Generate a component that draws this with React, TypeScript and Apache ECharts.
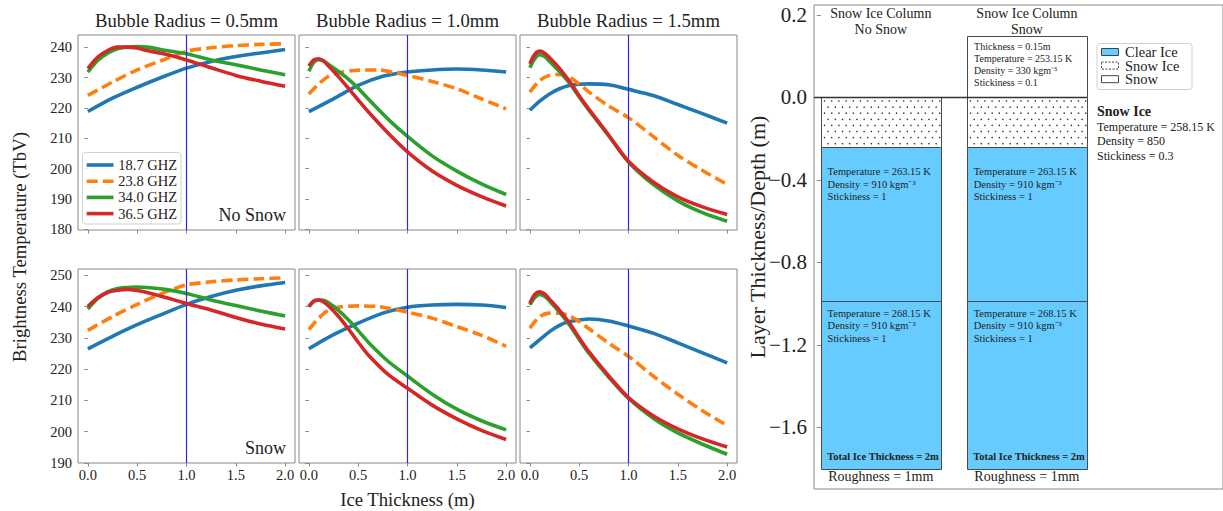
import React, { useEffect, useRef } from 'react';
import * as echarts from 'echarts';

const FONT = '"Liberation Serif", "Times New Roman", serif';
const TEXT = '#222';
const SPINE = '#888';

// ---------- left panels: brightness temperature vs ice thickness ----------
const FREQS = ['18.7 GHZ', '23.8 GHZ', '34.0 GHZ', '36.5 GHZ'];
const COLORS = ['#1f77b4', '#ff7f0e', '#2ca02c', '#d62728'];
const RADIUS_TITLES = ['Bubble Radius = 0.5mm', 'Bubble Radius = 1.0mm', 'Bubble Radius = 1.5mm'];
const ROW_LABELS = ['No Snow', 'Snow'];
const X_TICKS = [0, 0.5, 1.0, 1.5, 2.0];
const TOP_Y_TICKS = [180, 190, 200, 210, 220, 230, 240];
const BOTTOM_Y_TICKS = [190, 200, 210, 220, 230, 240, 250];
const MARKER_X = 1.0;

// No snow, radius 0.5 mm
const noSnowR05_f187 = [[0, 218.8], [0.25, 223.2], [0.5, 226.8], [0.75, 230.1], [1, 233.1], [1.25, 235.3], [1.5, 236.9], [1.75, 238.1], [2, 239.2]];
const noSnowR05_f238 = [[0, 224.1], [0.25, 228.5], [0.5, 232.5], [0.75, 235.6], [1, 238.6], [1.25, 239.8], [1.5, 240.5], [1.75, 240.9], [2, 241.1]];
const noSnowR05_f340 = [[0, 231.8], [0.1, 235.6], [0.2, 238.0], [0.3, 239.5], [0.4, 240.0], [0.5, 240.2], [0.6, 240.0], [0.8, 238.9], [1, 237.8], [1.25, 235.8], [1.5, 234.2], [1.75, 232.5], [2, 230.9]];
const noSnowR05_f365 = [[0, 232.9], [0.1, 236.7], [0.2, 238.9], [0.3, 240.0], [0.4, 240.0], [0.5, 239.7], [0.6, 238.9], [0.8, 237.6], [1, 235.8], [1.25, 233.2], [1.5, 230.7], [1.75, 228.8], [2, 227.1]];
// No snow, radius 1.0 mm
const noSnowR10_f187 = [[0, 218.8], [0.25, 223.0], [0.5, 227.4], [0.75, 230.4], [1, 231.8], [1.25, 232.5], [1.5, 232.8], [1.75, 232.5], [2, 231.8]];
const noSnowR10_f238 = [[0, 224.6], [0.1, 227.9], [0.2, 230.4], [0.3, 231.6], [0.5, 232.4], [0.7, 232.5], [0.9, 231.4], [1, 230.7], [1.25, 228.7], [1.5, 226.3], [1.75, 223.0], [2, 219.7]];
const noSnowR10_f340 = [[0, 232.1], [0.05, 235.0], [0.1, 235.9], [0.15, 235.5], [0.2, 234.3], [0.3, 232.0], [0.4, 229.5], [0.5, 226.5], [0.6, 223.0], [0.8, 216.4], [1, 210.6], [1.25, 204.2], [1.5, 199.2], [1.75, 195.0], [2, 191.5]];
const noSnowR10_f365 = [[0, 233.8], [0.05, 235.8], [0.1, 236.2], [0.15, 235.4], [0.2, 233.8], [0.3, 230.3], [0.4, 226.5], [0.5, 222.6], [0.6, 218.8], [0.8, 211.8], [1, 205.5], [1.25, 199.2], [1.5, 194.5], [1.75, 190.8], [2, 187.7]];
// No snow, radius 1.5 mm
const noSnowR15_f187 = [[0, 219.2], [0.1, 222.2], [0.2, 224.6], [0.3, 226.3], [0.4, 227.4], [0.6, 227.9], [0.8, 227.6], [1, 226.1], [1.25, 224.1], [1.5, 221.1], [1.75, 218.1], [2, 215.0]];
const noSnowR15_f238 = [[0, 225.2], [0.1, 229.0], [0.2, 230.7], [0.3, 231.0], [0.4, 230.1], [0.5, 227.9], [0.6, 225.2], [0.8, 220.6], [1, 216.8], [1.25, 210.6], [1.5, 204.4], [1.75, 199.4], [2, 194.8]];
const noSnowR15_f340 = [[0, 233.2], [0.05, 236.2], [0.1, 237.5], [0.15, 236.9], [0.2, 235.3], [0.3, 232.0], [0.4, 228.2], [0.5, 223.6], [0.6, 219.2], [0.8, 210.8], [1, 202.2], [1.25, 194.8], [1.5, 189.4], [1.75, 185.5], [2, 182.7]];
const noSnowR15_f365 = [[0, 234.5], [0.05, 237.6], [0.1, 238.7], [0.15, 238.0], [0.2, 236.5], [0.3, 233.0], [0.4, 228.8], [0.5, 224.0], [0.6, 219.5], [0.8, 211.0], [1, 202.4], [1.25, 195.6], [1.5, 190.7], [1.75, 187.4], [2, 184.9]];
// Snow, radius 0.5 mm
const snowR05_f187 = [[0, 226.5], [0.25, 230.5], [0.5, 234.2], [0.75, 237.5], [1, 240.7], [1.25, 243.2], [1.5, 245.2], [1.75, 246.6], [2, 247.7]];
const snowR05_f238 = [[0, 232.4], [0.25, 236.8], [0.5, 240.7], [0.75, 244.2], [1, 246.9], [1.25, 247.9], [1.5, 248.5], [1.75, 248.9], [2, 249.2]];
const snowR05_f340 = [[0, 239.2], [0.1, 242.6], [0.2, 244.7], [0.3, 245.8], [0.4, 246.1], [0.5, 246.2], [0.6, 246.1], [0.8, 245.4], [1, 244.2], [1.25, 242.1], [1.5, 240.3], [1.75, 238.6], [2, 237.0]];
const snowR05_f365 = [[0, 240.0], [0.1, 242.8], [0.2, 244.5], [0.3, 245.2], [0.4, 245.5], [0.5, 245.1], [0.6, 244.5], [0.8, 242.8], [1, 241.0], [1.25, 238.9], [1.5, 236.5], [1.75, 234.4], [2, 232.8]];
// Snow, radius 1.0 mm
const snowR10_f187 = [[0, 226.5], [0.25, 231.0], [0.5, 234.7], [0.75, 237.9], [1, 239.8], [1.25, 240.5], [1.5, 240.7], [1.75, 240.5], [2, 239.7]];
const snowR10_f238 = [[0, 232.6], [0.1, 236.3], [0.2, 238.9], [0.3, 239.8], [0.5, 240.2], [0.7, 240.0], [0.9, 238.9], [1, 238.2], [1.25, 236.3], [1.5, 233.6], [1.75, 230.8], [2, 227.3]];
const snowR10_f340 = [[0, 240.0], [0.05, 241.6], [0.1, 242.1], [0.15, 242.0], [0.2, 241.2], [0.3, 238.8], [0.4, 235.8], [0.5, 232.3], [0.6, 228.7], [0.8, 222.6], [1, 217.8], [1.25, 212.0], [1.5, 207.2], [1.75, 203.5], [2, 200.6]];
const snowR10_f365 = [[0, 240.0], [0.05, 241.8], [0.1, 242.1], [0.15, 241.5], [0.2, 240.2], [0.3, 236.9], [0.4, 232.9], [0.5, 228.6], [0.6, 224.6], [0.8, 218.4], [1, 213.9], [1.25, 208.5], [1.5, 204.1], [1.75, 200.4], [2, 197.5]];
// Snow, radius 1.5 mm
const snowR15_f187 = [[0, 226.8], [0.1, 229.4], [0.2, 232.0], [0.3, 234.0], [0.4, 235.2], [0.5, 235.7], [0.6, 236.0], [0.8, 235.4], [1, 233.8], [1.25, 231.5], [1.5, 228.4], [1.75, 225.2], [2, 222.0]];
const snowR15_f238 = [[0, 233.1], [0.1, 236.8], [0.2, 237.9], [0.3, 237.9], [0.4, 237.1], [0.5, 235.2], [0.6, 232.9], [0.8, 228.3], [1, 224.1], [1.25, 217.8], [1.5, 212.0], [1.75, 206.7], [2, 202.0]];
const snowR15_f340 = [[0, 240.5], [0.05, 242.9], [0.1, 243.9], [0.15, 243.3], [0.2, 241.8], [0.3, 238.2], [0.4, 234.2], [0.5, 229.5], [0.6, 225.0], [0.8, 217.4], [1, 210.6], [1.25, 204.3], [1.5, 199.6], [1.75, 196.0], [2, 192.8]];
const snowR15_f365 = [[0, 241.0], [0.05, 243.9], [0.1, 244.7], [0.15, 244.0], [0.2, 242.3], [0.3, 238.8], [0.4, 234.8], [0.5, 230.0], [0.6, 225.5], [0.8, 217.8], [1, 210.9], [1.25, 205.1], [1.5, 200.9], [1.75, 197.7], [2, 195.1]];

const PANEL_DATA = [
  [noSnowR05_f187, noSnowR05_f238, noSnowR05_f340, noSnowR05_f365],
  [noSnowR10_f187, noSnowR10_f238, noSnowR10_f340, noSnowR10_f365],
  [noSnowR15_f187, noSnowR15_f238, noSnowR15_f340, noSnowR15_f365],
  [snowR05_f187, snowR05_f238, snowR05_f340, snowR05_f365],
  [snowR10_f187, snowR10_f238, snowR10_f340, snowR10_f365],
  [snowR15_f187, snowR15_f238, snowR15_f340, snowR15_f365],
];

// ---------- right panel: layer diagram ----------
const COLUMN_X = [[0, 3], [3.65, 6.65]];
const SNOW_ICE_LAYER = [0, -0.24];
const CLEAR_ICE_UPPER = [-0.24, -0.985];
const CLEAR_ICE_LOWER = [-0.985, -1.8];
const SNOW_LAYER = [0.3, 0];
const ZERO_LINE = [[-0.17, 0], [6.65, 0]];
const RIGHT_TICK_VALUES = [0.4, 0, -0.4, -0.8, -1.2, -1.6];
const RIGHT_TICK_LABELS = ['0.2', '0.0', '\u22120.4', '\u22120.8', '\u22121.2', '\u22121.6'];

// kind: 0 clear ice, 1 snow ice, 2 snow
const LAYERS: number[][] = [];
COLUMN_X.forEach(([x0, x1], c) => {
  LAYERS.push([x0, x1, SNOW_ICE_LAYER[0], SNOW_ICE_LAYER[1], 1]);
  LAYERS.push([x0, x1, CLEAR_ICE_UPPER[0], CLEAR_ICE_UPPER[1], 0]);
  LAYERS.push([x0, x1, CLEAR_ICE_LOWER[0], CLEAR_ICE_LOWER[1], 0]);
  if (c === 1) LAYERS.push([x0, x1, SNOW_LAYER[0], SNOW_LAYER[1], 2]);
});

type Ann = { x: number; y: number; text: string; size: number; bold?: boolean; align?: string };
const ANNOTATIONS: Ann[] = [];
const colTitles = ['No Snow', 'Snow'];
COLUMN_X.forEach(([x0, x1], c) => {
  const mid = (x0 + x1) / 2;
  const tx = x0 + 0.17;
  ANNOTATIONS.push({ x: mid, y: 0.407, text: 'Snow Ice Column', size: 14, align: 'center' });
  ANNOTATIONS.push({ x: mid, y: 0.33, text: colTitles[c], size: 14, align: 'center' });
  ['Temperature = 263.15 K', 'Density = 910 kgm\u207B\u00B3', 'Stickiness = 1'].forEach((t, i) =>
    ANNOTATIONS.push({ x: tx, y: -0.361 - i * 0.0605, text: t, size: 10.5 }));
  ['Temperature = 268.15 K', 'Density = 910 kgm\u207B\u00B3', 'Stickiness = 1'].forEach((t, i) =>
    ANNOTATIONS.push({ x: tx, y: -1.047 - i * 0.0605, text: t, size: 10.5 }));
  ANNOTATIONS.push({ x: tx - 0.01, y: -1.743, text: 'Total Ice Thickness = 2m', size: 10.5, bold: true });
  ANNOTATIONS.push({ x: mid, y: -1.84, text: 'Roughness = 1mm', size: 14, align: 'center' });
  if (c === 1) {
    ['Thickness = 0.15m', 'Temperature = 253.15 K', 'Density = 330 kgm\u207B\u00B3', 'Stickiness = 0.1'].forEach((t, i) =>
      ANNOTATIONS.push({ x: tx + 0.01, y: 0.247 - i * 0.059, text: t, size: 10 }));
  }
});

const PANEL_LEFTS = [78, 299, 520];
const PANEL_W = 217;
const ROW_TOPS = [35, 269];
const ROW_H = [195, 194];
const ROW_Y_RANGE = [[179.8, 244.0], [190.0, 252.0]];

function buildOption() {
  const grid: any[] = [];
  const xAxis: any[] = [];
  const yAxis: any[] = [];
  const series: any[] = [];
  const graphic: any[] = [];

  PANEL_DATA.forEach((panel, i) => {
    const row = Math.floor(i / 3);
    const col = i % 3;
    grid.push({
      left: PANEL_LEFTS[col], top: ROW_TOPS[row], width: PANEL_W, height: ROW_H[row],
      show: true, borderColor: SPINE, borderWidth: 1, backgroundColor: '#fff',
    });
    xAxis.push({
      gridIndex: i, type: 'value', min: -0.1, max: 2.1,
      axisLine: { show: false }, splitLine: { show: false },
      axisTick: { show: true, customValues: X_TICKS, length: 3.5, lineStyle: { color: SPINE } },
      axisLabel: {
        show: row === 1, customValues: X_TICKS, formatter: (v: number) => v.toFixed(1),
        fontFamily: FONT, fontSize: 14.5, color: TEXT, margin: 4,
      },
      ...(i === 4 ? {
        name: 'Ice Thickness (m)', nameLocation: 'middle', nameGap: 27,
        nameTextStyle: { fontFamily: FONT, fontSize: 18.7, color: TEXT },
      } : {}),
    });
    const yt = row === 0 ? TOP_Y_TICKS : BOTTOM_Y_TICKS;
    yAxis.push({
      gridIndex: i, type: 'value', min: ROW_Y_RANGE[row][0], max: ROW_Y_RANGE[row][1],
      axisLine: { show: false }, splitLine: { show: false },
      axisTick: { show: true, customValues: yt, length: 3.5, lineStyle: { color: SPINE } },
      axisLabel: {
        show: col === 0, customValues: yt, fontFamily: FONT, fontSize: 14.5, color: TEXT, margin: 6,
      },
    });
    panel.forEach((data, j) => {
      series.push({
        type: 'line', name: FREQS[j], xAxisIndex: i, yAxisIndex: i, data,
        symbol: 'none', showSymbol: false, smooth: 0.3, animation: false,
        lineStyle: { color: COLORS[j], width: 3.6, type: j === 1 ? [11, 5] : 'solid', cap: 'butt', join: 'round' },
        itemStyle: { color: COLORS[j] },
        z: 2 + j,
        ...(j === 0 ? {
          markLine: {
            silent: true, symbol: ['none', 'none'], label: { show: false }, animation: false,
            lineStyle: { color: '#2a2ae0', width: 1.2, type: 'solid' },
            data: [{ xAxis: MARKER_X }],
          },
        } : {}),
      });
    });
    if (row === 0) {
      graphic.push({
        type: 'text', x: PANEL_LEFTS[col] + PANEL_W / 2, y: 20,
        style: { text: RADIUS_TITLES[col], fontFamily: FONT, fontSize: 18.7, fill: TEXT, align: 'center', verticalAlign: 'middle' },
      });
    }
  });

  // legend of the first panel (drawn by hand so the keys are plain line samples)
  graphic.push({
    type: 'rect', z: 50, shape: { x: 82.5, y: 152.5, width: 98.5, height: 71.5, r: 3 },
    style: { fill: 'rgba(255,255,255,0.85)', stroke: '#d0d0d0', lineWidth: 1 },
  });
  FREQS.forEach((f, k) => {
    const cy = 165 + k * 16.2;
    graphic.push({
      type: 'line', z: 51, shape: { x1: 86.7, y1: cy, x2: 113.5, y2: cy },
      style: { stroke: COLORS[k], lineWidth: 3.6, lineDash: k === 1 ? [11, 5] : null },
    });
    graphic.push({
      type: 'text', z: 51, x: 118.3, y: cy,
      style: { text: f, fontFamily: FONT, fontSize: 14.5, fill: TEXT, verticalAlign: 'middle' },
    });
  });

  // row labels
  graphic.push({
    type: 'text', x: 286, y: 215,
    style: { text: ROW_LABELS[0], fontFamily: FONT, fontSize: 18, fill: TEXT, align: 'right', verticalAlign: 'middle' },
  });
  graphic.push({
    type: 'text', x: 286, y: 448,
    style: { text: ROW_LABELS[1], fontFamily: FONT, fontSize: 18, fill: TEXT, align: 'right', verticalAlign: 'middle' },
  });
  graphic.push({
    type: 'text', x: 19, y: 247, rotation: Math.PI / 2,
    style: { text: 'Brightness Temperature (TbV)', fontFamily: FONT, fontSize: 18.7, fill: TEXT, align: 'center', verticalAlign: 'middle' },
  });

  // ---------- right diagram ----------
  const R = 6;
  grid.push({ left: 814, top: 5, width: 412, height: 484, show: true, borderColor: SPINE, borderWidth: 1, backgroundColor: '#fff' });
  xAxis.push({ gridIndex: R, type: 'value', min: -0.17, max: 10.05, show: false });
  yAxis.push({
    gridIndex: R, type: 'value', min: -1.899, max: 0.448,
    axisLine: { show: false }, splitLine: { show: false },
    axisTick: { show: true, customValues: RIGHT_TICK_VALUES, length: 4, lineStyle: { color: SPINE } },
    axisLabel: {
      customValues: RIGHT_TICK_VALUES, fontFamily: FONT, fontSize: 21, color: TEXT, margin: 7,
      formatter: (v: number) => {
        const k = RIGHT_TICK_VALUES.findIndex((t) => Math.abs(t - v) < 1e-6);
        return k >= 0 ? RIGHT_TICK_LABELS[k] : '';
      },
    },
  });
  graphic.push({
    type: 'text', x: 757, y: 237, rotation: Math.PI / 2,
    style: { text: 'Layer Thickness/Depth (m)', fontFamily: FONT, fontSize: 22, fill: TEXT, align: 'center', verticalAlign: 'middle' },
  });

  series.push({
    type: 'custom', xAxisIndex: R, yAxisIndex: R, data: LAYERS, clip: false, animation: false, z: 2,
    renderItem: (params: any, api: any) => {
      const p0 = api.coord([api.value(0), api.value(2)]);
      const p1 = api.coord([api.value(1), api.value(3)]);
      const kind = api.value(4);
      const x = Math.round(p0[0]) + 0.5;
      const y = Math.round(p0[1]) + 0.5;
      const w = Math.round(p1[0]) - Math.round(p0[0]);
      const h = Math.round(p1[1]) - Math.round(p0[1]);
      const children: any[] = [{
        type: 'rect', shape: { x, y, width: w, height: h },
        style: { fill: kind === 0 ? '#66ccff' : '#ffffff', stroke: '#4a4a4a', lineWidth: 1 },
      }];
      if (kind === 1) {
        let r = 0;
        for (let yy = y + 3.5; yy < y + h - 1; yy += 6.1, r++) {
          for (let xx = x + 3 + (r % 2 ? 3.6 : 0); xx < x + w - 1; xx += 7.2) {
            children.push({ type: 'circle', shape: { cx: xx, cy: yy, r: 0.75 }, style: { fill: '#333' } });
          }
        }
      }
      return { type: 'group', children };
    },
  });
  series.push({
    type: 'line', xAxisIndex: R, yAxisIndex: R, data: ZERO_LINE, symbol: 'none', silent: true,
    lineStyle: { color: '#333', width: 1.5 }, z: 5, animation: false,
  });
  series.push({
    type: 'custom', xAxisIndex: R, yAxisIndex: R, data: ANNOTATIONS.map((a) => [a.x, a.y]), clip: false, z: 6, animation: false,
    renderItem: (params: any, api: any) => {
      const a = ANNOTATIONS[params.dataIndex];
      const p = api.coord([api.value(0), api.value(1)]);
      return {
        type: 'text', x: p[0], y: p[1],
        style: {
          text: a.text, fontFamily: FONT, fontSize: a.size, fontWeight: a.bold ? 'bold' : 'normal',
          fill: TEXT, align: a.align || 'left', verticalAlign: 'middle',
        },
      };
    },
  });

  // right legend
  graphic.push({ type: 'rect', shape: { x: 1097, y: 43.5, width: 95, height: 46, r: 3 }, style: { fill: '#fff', stroke: '#d0d0d0', lineWidth: 1 } });
  const legItems = [
    { label: 'Clear Ice', fill: '#66ccff', dash: null as any },
    { label: 'Snow Ice', fill: '#fff', dash: [2, 1.5] },
    { label: 'Snow', fill: '#fff', dash: null as any },
  ];
  legItems.forEach((it, k) => {
    const cy = 52 + k * 13.6;
    graphic.push({
      type: 'rect', shape: { x: 1101.5, y: cy - 3.5, width: 17, height: 7 },
      style: { fill: it.fill, stroke: '#444', lineWidth: 1, lineDash: it.dash },
    });
    graphic.push({
      type: 'text', x: 1125, y: cy,
      style: { text: it.label, fontFamily: FONT, fontSize: 14.5, fill: TEXT, verticalAlign: 'middle' },
    });
  });
  graphic.push({
    type: 'text', x: 1097, y: 111.7,
    style: { text: 'Snow Ice', fontFamily: FONT, fontSize: 14, fontWeight: 'bold', fill: TEXT, verticalAlign: 'middle' },
  });
  ['Temperature = 258.15 K', 'Density = 850', 'Stickiness = 0.3'].forEach((t, k) => {
    graphic.push({
      type: 'text', x: 1097, y: 126.7 + k * 14.5,
      style: { text: t, fontFamily: FONT, fontSize: 12, fill: TEXT, verticalAlign: 'middle' },
    });
  });

  return {
    animation: false,
    backgroundColor: '#ffffff',
    textStyle: { fontFamily: FONT },
    grid, xAxis, yAxis, series, graphic,
  };
}

export default function App() {
  const ref = useRef<HTMLDivElement>(null);
  useEffect(() => {
    const chart = echarts.init(ref.current!, null, { renderer: 'svg' });
    chart.setOption(buildOption() as any);
    return () => chart.dispose();
  }, []);
  return (
    <div
      ref={ref}
      style={{ position: 'fixed', left: 0, top: 0, width: 1223, height: 511, background: '#fff' }}
    />
  );
}
